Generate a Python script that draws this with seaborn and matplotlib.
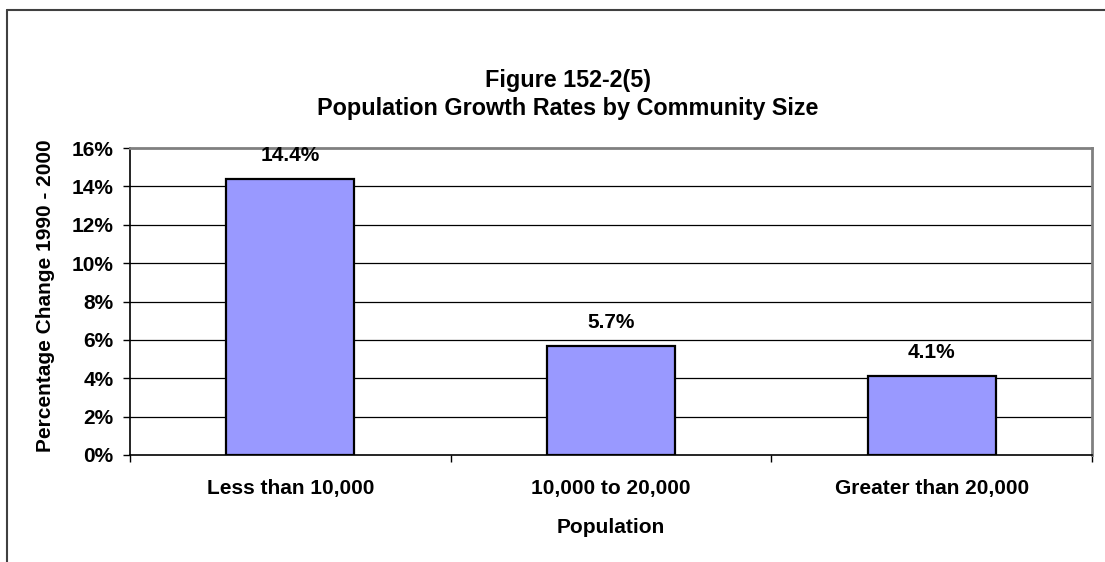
import matplotlib
matplotlib.use("Agg")
import matplotlib.pyplot as plt
import seaborn as sns
import pandas as pd
from matplotlib.lines import Line2D
from matplotlib.ticker import FuncFormatter, FixedLocator

categories = ["Less than 10,000", "10,000 to 20,000", "Greater than 20,000"]
values = [14.4, 5.7, 4.1]
title_lines = ["Figure 152-2(5)", "Population Growth Rates by Community Size"]
y_ticks = [0, 2, 4, 6, 8, 10, 12, 14, 16]

sns.set_style("white")
plt.rcParams['font.family'] = ['Liberation Sans', 'DejaVu Sans']
plt.rcParams['font.weight'] = 'bold'
plt.rcParams['text.color'] = 'black'
plt.rcParams['axes.labelcolor'] = 'black'
plt.rcParams['xtick.color'] = 'black'
plt.rcParams['ytick.color'] = 'black'

W, H = 1105, 562
fig = plt.figure(figsize=(W / 100, H / 100), dpi=100)
fig.patch.set_facecolor("white")

l, r, t, b = 130, 1092, 148, 455
ax = fig.add_axes([l / W, 1 - b / H, (r - l) / W, (b - t) / H])

df = pd.DataFrame({"cat": categories, "val": values})
sns.barplot(data=df, x="cat", y="val", ax=ax, color="#9999FF", saturation=1,
            width=0.4, edgecolor="black", linewidth=1.6, zorder=3)

FS = 15
ax.set_xlim(-0.5, 2.5)
ax.set_ylim(0, 16)
ax.set_yticks(y_ticks)
ax.yaxis.set_major_formatter(FuncFormatter(lambda v, p: f"{v:.0f}%"))
ax.grid(False)
for v in y_ticks[1:-1]:
    ax.axhline(v, color="black", lw=0.9, zorder=1)

ax.tick_params(axis="y", which="major", left=True, length=5, width=1,
               color="black", labelcolor="black", pad=7, labelsize=FS)
ax.tick_params(axis="x", which="major", bottom=False, length=0, pad=17,
               labelcolor="black", labelsize=FS)
ax.xaxis.set_minor_locator(FixedLocator([-0.5, 0.5, 1.5, 2.5]))
ax.tick_params(axis="x", which="minor", bottom=True, length=5, width=1, color="black")
for lab in ax.get_xticklabels() + ax.get_yticklabels():
    lab.set_fontweight("bold")

for s in ["left", "bottom"]:
    ax.spines[s].set_color("black")
    ax.spines[s].set_linewidth(1.2)
for s in ["top", "right"]:
    ax.spines[s].set_color("#808080")
    ax.spines[s].set_linewidth(2)
    ax.spines[s].set_visible(True)

ax.set_xlabel("Population", fontsize=FS, fontweight="bold", labelpad=15, color="black")
ax.set_ylabel("Percentage Change 1990 - 2000", fontsize=FS, fontweight="bold", color="black")
ax.yaxis.set_label_coords((55 - l) / (r - l), 0.52)

for c in ax.containers:
    ax.bar_label(c, labels=[f"{v:.1f}%" for v in values], padding=10,
                 fontsize=FS, fontweight="bold", color="black")

fig.text(568 / W, 1 - 80 / H, title_lines[0], ha="center", va="center",
         fontsize=16.8, fontweight="bold", color="black")
fig.text(568 / W, 1 - 108 / H, title_lines[1], ha="center", va="center",
         fontsize=16.8, fontweight="bold", color="black")

# chart-area border (top and left visible)
fig.add_artist(Line2D([7 / W, 1], [1 - 10 / H, 1 - 10 / H], transform=fig.transFigure,
                      color="#404040", lw=1.5))
fig.add_artist(Line2D([7 / W, 7 / W], [1 - 10 / H, 0], transform=fig.transFigure,
                      color="#404040", lw=1.5))

fig.savefig("out.png", dpi=100, facecolor="white")
